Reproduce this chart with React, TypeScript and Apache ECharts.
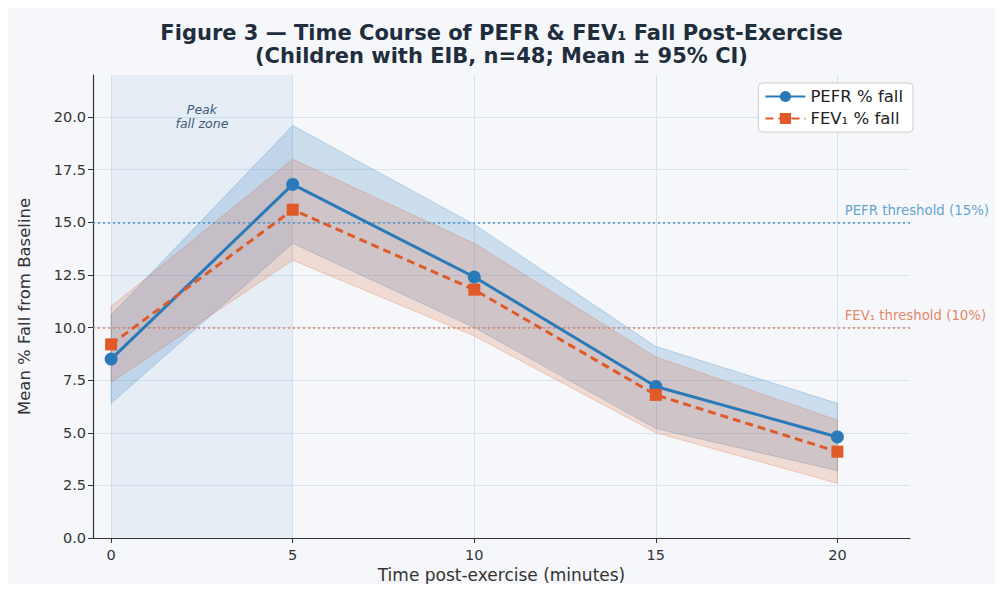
import React, { useEffect, useRef } from "react";
import * as echarts from "echarts";

const times = [0, 5, 10, 15, 20];
const pefrMean = [8.5, 16.8, 12.4, 7.2, 4.8];
const pefrLo = [6.4, 14.0, 10.0, 5.2, 3.2];
const pefrHi = [10.6, 19.6, 14.9, 9.1, 6.4];
const fevMean = [9.2, 15.6, 11.8, 6.8, 4.1];
const fevLo = [7.4, 13.2, 9.6, 5.0, 2.6];
const fevHi = [11.0, 18.0, 14.0, 8.6, 5.6];
const xTicks = [0, 5, 10, 15, 20];
const yTicks = [0, 2.5, 5, 7.5, 10, 12.5, 15, 17.5, 20];
const pefrThreshold = 15;
const fevThreshold = 10;
const peakZone = [0, 5];

const BLUE = "#2a7ab9";
const ORANGE = "#e05a28";

function bandSeries(name: string, lo: number[], hi: number[], fill: string, stroke: string) {
  return {
    name,
    type: "custom",
    silent: true,
    z: 1,
    data: times.map((t, i) => [t, lo[i], hi[i]]),
    encode: { x: 0, y: [1, 2] },
    renderItem: (params: any, api: any) => {
      if (params.dataIndex !== 0) return null;
      const top = times.map((t, i) => api.coord([t, hi[i]]));
      const bot = times.map((t, i) => api.coord([t, lo[i]])).reverse();
      return {
        type: "polygon",
        shape: { points: top.concat(bot) },
        style: { fill, stroke, lineWidth: 1 },
      };
    },
  };
}

export default function App() {
  const ref = useRef<HTMLDivElement>(null);
  useEffect(() => {
    if (!ref.current) return;
    const chart = echarts.init(ref.current, undefined, { renderer: "svg" });
    const pts = (ys: number[]) => times.map((t, i) => [t, ys[i]]);
    chart.setOption({
      animation: false,
      backgroundColor: "#f5f7fa",
      textStyle: { fontFamily: "DejaVu Sans" },
      title: {
        text: "Figure 3 — Time Course of PEFR & FEV₁ Fall Post-Exercise\n(Children with EIB, n=48; Mean ± 95% CI)",
        left: "center",
        top: 8,
        textStyle: { fontSize: 21, fontWeight: "bold", color: "#1f2d3d", lineHeight: 23, fontFamily: "DejaVu Sans" },
      },
      legend: {
        data: ["PEFR % fall", "FEV₁ % fall"],
        orient: "vertical",
        right: 82,
        top: 75,
        backgroundColor: "#ffffff",
        borderColor: "#cccccc",
        borderWidth: 1,
        borderRadius: 4,
        padding: [5, 10, 5, 6],
        itemGap: 5,
        itemWidth: 40,
        itemHeight: 14,
        textStyle: { fontSize: 16.5, color: "#222" },
      },
      grid: { left: 85, right: 85, top: 67, bottom: 46, outerBoundsMode: "none" },
      xAxis: {
        type: "value",
        min: -0.5,
        max: 22,
        name: "Time post-exercise (minutes)",
        nameLocation: "middle",
        nameGap: 28,
        nameTextStyle: { fontSize: 17, color: "#333" },
        axisLine: { show: true, onZero: false, lineStyle: { color: "#333", width: 1.2 } },
        axisTick: { show: true, length: 5, customValues: xTicks, lineStyle: { color: "#333" } },
        axisLabel: { customValues: xTicks, fontSize: 14.5, color: "#333", margin: 9 },
        splitLine: { show: true, lineStyle: { color: "#d6e4f0", width: 1 } },
      },
      yAxis: {
        type: "value",
        min: 0,
        max: 22,
        name: "Mean % Fall from Baseline",
        nameLocation: "middle",
        nameGap: 60,
        nameTextStyle: { fontSize: 16.5, color: "#333" },
        axisLine: { show: true, onZero: false, lineStyle: { color: "#333", width: 1.2 } },
        axisTick: { show: true, length: 5, customValues: yTicks, lineStyle: { color: "#333" } },
        axisLabel: { customValues: yTicks, fontSize: 14.5, color: "#333", margin: 7, formatter: (v: number) => v.toFixed(1) },
        splitLine: { show: true, lineStyle: { color: "#d6e4f0", width: 1 } },
      },
      series: [
        bandSeries("pefrBand", pefrLo, pefrHi, "rgba(42,122,185,0.2)", "rgba(42,122,185,0.25)"),
        bandSeries("fevBand", fevLo, fevHi, "rgba(224,90,40,0.18)", "rgba(224,90,40,0.25)"),
        {
          name: "thresholds",
          type: "scatter",
          silent: true,
          symbolSize: 0,
          data: [
            { value: [20.2, pefrThreshold], label: { formatter: "PEFR threshold (15%)", color: "#3b8cc4" } },
            { value: [20.2, fevThreshold], label: { formatter: "FEV₁ threshold (10%)", color: "#e0693c" } },
          ],
          label: { show: true, position: "right", distance: 0, offset: [0, -12], fontSize: 13.3 },
          markLine: {
            silent: true,
            symbol: "none",
            label: { show: false },
            data: [
              { yAxis: pefrThreshold, lineStyle: { color: "#4a90c8", type: [2, 3], width: 1.6 } },
              { yAxis: fevThreshold, lineStyle: { color: "#d9805e", type: [2, 3], width: 1.6 } },
            ],
          },
          markArea: {
            silent: true,
            itemStyle: { color: "rgba(70,130,190,0.08)" },
            label: {
              show: true,
              position: "insideTop",
              distance: 27,
              formatter: "Peak\nfall zone",
              fontStyle: "italic",
              fontSize: 12.5,
              lineHeight: 14,
              color: "#3d5a7a",
            },
            data: [[{ xAxis: peakZone[0] }, { xAxis: peakZone[1] }]],
          },
          z: 2,
        },
        {
          name: "PEFR % fall",
          type: "line",
          data: pts(pefrMean),
          symbol: "circle",
          symbolSize: 13,
          itemStyle: { color: BLUE },
          lineStyle: { color: BLUE, width: 3 },
          z: 5,
        },
        {
          name: "FEV₁ % fall",
          type: "line",
          data: pts(fevMean),
          symbol: "rect",
          symbolSize: 12,
          itemStyle: { color: ORANGE },
          lineStyle: { color: ORANGE, width: 3, type: [8, 5] },
          z: 6,
        },
      ],
    });
    return () => chart.dispose();
  }, []);
  return <div ref={ref} style={{ width: 987, height: 576 }} />;
}
